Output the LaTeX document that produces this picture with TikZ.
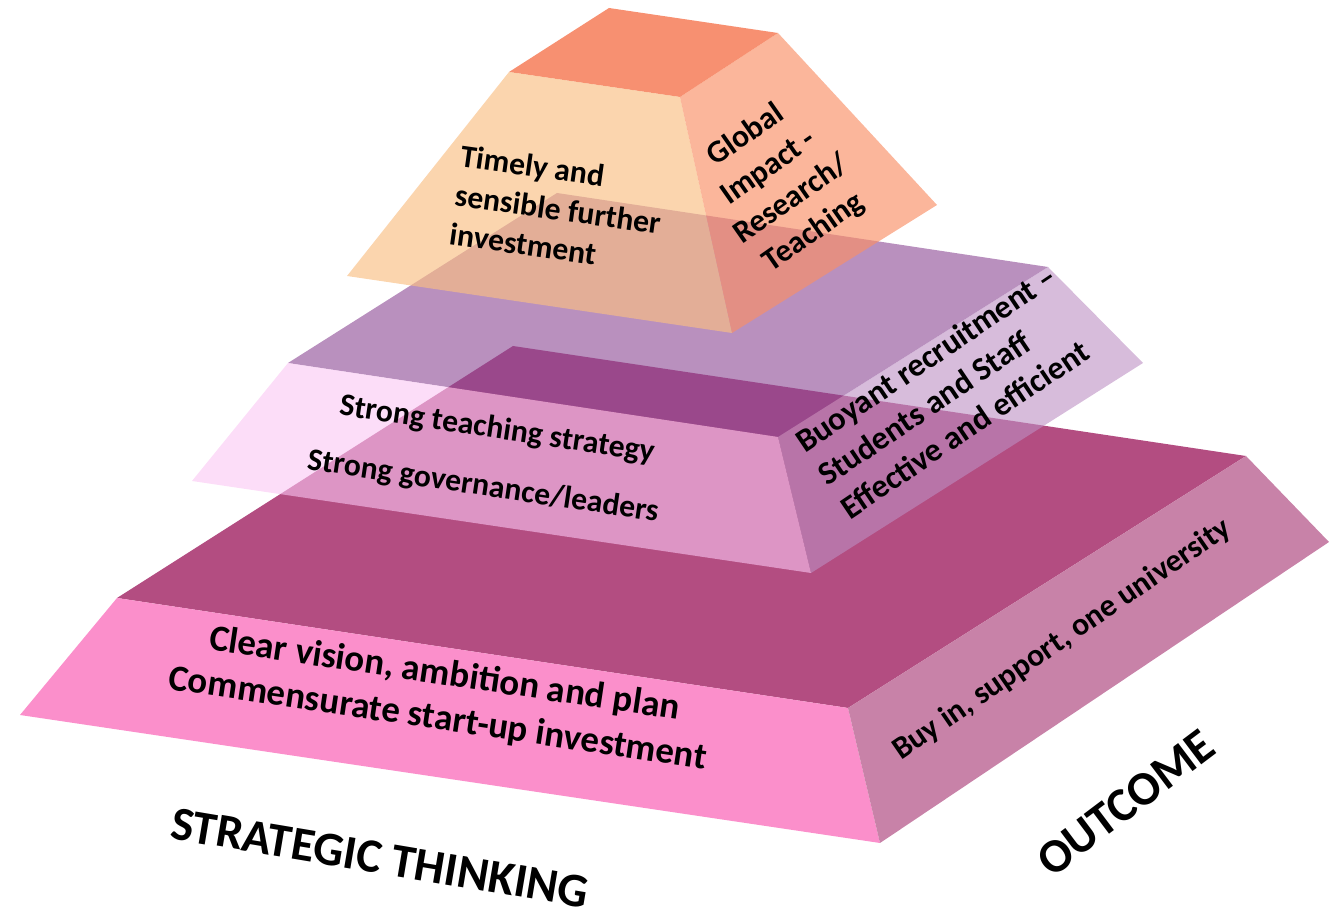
\documentclass[tikz,border=0pt]{standalone}
\usepackage{fontspec}
\setmainfont{Carlito}
\usepackage{tikz}

\definecolor{baseTop}{HTML}{B34D81}
\definecolor{baseFront}{HTML}{FB8FCB}
\definecolor{baseSide}{HTML}{C882A8}
\definecolor{midTop}{HTML}{8A4693}
\definecolor{midFront}{HTML}{FAC6F3}
\definecolor{midSide}{HTML}{BC8FC3}
\definecolor{apexTop}{HTML}{F35525}
\definecolor{apexFront}{HTML}{F9BF83}
\definecolor{apexSide}{HTML}{F98F66}

\begin{document}
\begin{tikzpicture}[x=0.01cm,y=-0.01cm,
	midlayer/.style={fill opacity=0.6},
	apexlayer/.style={fill opacity=0.65},
	txt/.style={font=\bfseries\fontsize{9}{11.2}\selectfont,inner sep=0pt,align=center},
	big/.style={font=\bfseries\fontsize{10.5}{12.8}\selectfont,inner sep=0pt,align=center},
	heading/.style={font=\bfseries\fontsize{13.6}{16}\selectfont,inner sep=0pt}
]
	\useasboundingbox (0,0) rectangle (1329,916);

	% base level
	\coordinate (b1) at (117,598);
	\coordinate (b2) at (848,708);
	\coordinate (b3) at (1246,456);
	\coordinate (b4) at (513,346);
	\coordinate (b5) at (20,715);
	\coordinate (b6) at (880,843);
	\coordinate (b7) at (1329,542);
	\fill[baseTop]   (b1) -- (b2) -- (b3) -- (b4) -- cycle;
	\fill[baseFront] (b5) -- (b6) -- (b2) -- (b1) -- cycle;
	\fill[baseSide]  (b6) -- (b7) -- (b3) -- (b2) -- cycle;

	% middle level
	\coordinate (m1) at (288,363);
	\coordinate (m2) at (778,437);
	\coordinate (m3) at (1048,267);
	\coordinate (m4) at (557,193);
	\coordinate (m5) at (192,481);
	\coordinate (m6) at (811,573);
	\coordinate (m7) at (1143,363);
	\fill[midTop,midlayer]   (m1) -- (m2) -- (m3) -- (m4) -- cycle;
	\fill[midFront,midlayer] (m5) -- (m6) -- (m2) -- (m1) -- cycle;
	\fill[midSide,midlayer]  (m6) -- (m7) -- (m3) -- (m2) -- cycle;

	% top level
	\coordinate (t1) at (509,72);
	\coordinate (t2) at (680,97);
	\coordinate (t3) at (778,33);
	\coordinate (t4) at (609,8);
	\coordinate (t5) at (347,276);
	\coordinate (t6) at (732,333);
	\coordinate (t7) at (937,205);
	\fill[apexTop,apexlayer]   (t1) -- (t2) -- (t3) -- (t4) -- cycle;
	\fill[apexFront,apexlayer] (t5) -- (t6) -- (t2) -- (t1) -- cycle;
	\fill[apexSide,apexlayer]  (t6) -- (t7) -- (t3) -- (t2) -- cycle;

	% labels
	\node[txt,align=left,rotate=-8] (timely) at (558,209) {Timely and\\sensible further\\investment};
	\node[txt,rotate=35] (global) at (780,184) {Global\\Impact -\\Research/\\Teaching};
	\node[txt,rotate=-8.5] (teach) at (497,430) {Strong teaching strategy};
	\node[txt,rotate=-8.5] (gov) at (483,487) {Strong governance/leaders};
	\node[txt,align=left,rotate=34,font=\bfseries\fontsize{9.3}{11.4}\selectfont] (buoyant) at (948,392) {Buoyant recruitment --\\Students and Staff\\Effective and efficient};
	\node[big,rotate=-8.5] (vision) at (441,697) {Clear vision, ambition and plan\\Commensurate start-up investment};
	\node[txt,rotate=34.5] (buyin) at (1062,640) {Buy in, support, one university};
	\node[heading,rotate=-9.5] (strategic) at (380,858) {STRATEGIC THINKING};
	\node[heading,rotate=37] (outcome) at (1126,803) {OUTCOME};
\end{tikzpicture}
\end{document}
